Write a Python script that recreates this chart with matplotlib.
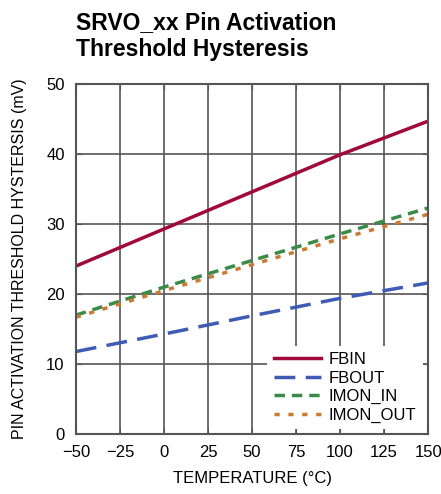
import matplotlib
matplotlib.use('Agg')
import matplotlib.pyplot as plt

plt.rcParams['font.family'] = ['Liberation Sans', 'DejaVu Sans']

temp = [-50, 0, 50, 100, 150]
fbin = [24.0, 29.3, 34.6, 39.9, 44.7]
fbout = [11.8, 14.3, 16.9, 19.4, 21.6]
imon_in = [17.0, 21.0, 24.8, 28.6, 32.3]
imon_out = [16.7, 20.5, 24.2, 27.9, 31.4]

xticks = [-50, -25, 0, 25, 50, 75, 100, 125, 150]
xlabels = ['\u221250', '\u221225', '0', '25', '50', '75', '100', '125', '150']
yticks = [0, 10, 20, 30, 40, 50]

fig = plt.figure(figsize=(4.41, 4.94), dpi=100)
ax = fig.add_axes([0.172, 0.121, 0.799, 0.709])

ax.plot(temp, fbin, color='#a0093a', lw=2.5, label='FBIN')
ax.plot(temp, fbout, color='#3f5cb5', lw=2.5, dashes=(6, 3), label='FBOUT')
ax.plot(temp, imon_in, color='#3a8a48', lw=2.5, dashes=(3, 2), label='IMON_IN')
ax.plot(temp, imon_out, color='#cc7a33', lw=2.5, dashes=(1.5, 2.5), label='IMON_OUT')

ax.set_xlim(-50, 150)
ax.set_ylim(0, 50)
ax.set_xticks(xticks)
ax.set_xticklabels(xlabels)
ax.set_yticks(yticks)
ax.grid(True, color='#555555', lw=1.2)
ax.set_axisbelow(True)
for s in ax.spines.values():
    s.set_color('#555555')
    s.set_linewidth(1.5)
ax.tick_params(direction='in', length=4, color='#555555', labelsize=12,
               right=True, top=True)
ax.tick_params(axis='x', pad=8)
ax.tick_params(axis='y', pad=8)
ax.set_xlabel('TEMPERATURE (\u00b0C)', fontsize=12, labelpad=8)
ax.set_ylabel('PIN ACTIVATION THRESHOLD HYSTERSIS (mV)', fontsize=11.5, labelpad=14)

leg = ax.legend(loc='lower right', fontsize=12, frameon=True, framealpha=1,
                edgecolor='none', fancybox=False, handlelength=2.8,
                labelspacing=0.2, borderaxespad=0.3, handletextpad=0.5)
leg.get_frame().set_linewidth(0)

fig.text(0.172, 0.977, 'SRVO_xx Pin Activation\nThreshold Hysteresis',
         fontsize=16.5, fontweight='bold', va='top', ha='left', linespacing=1.2)

fig.savefig('out.png', dpi=100)
